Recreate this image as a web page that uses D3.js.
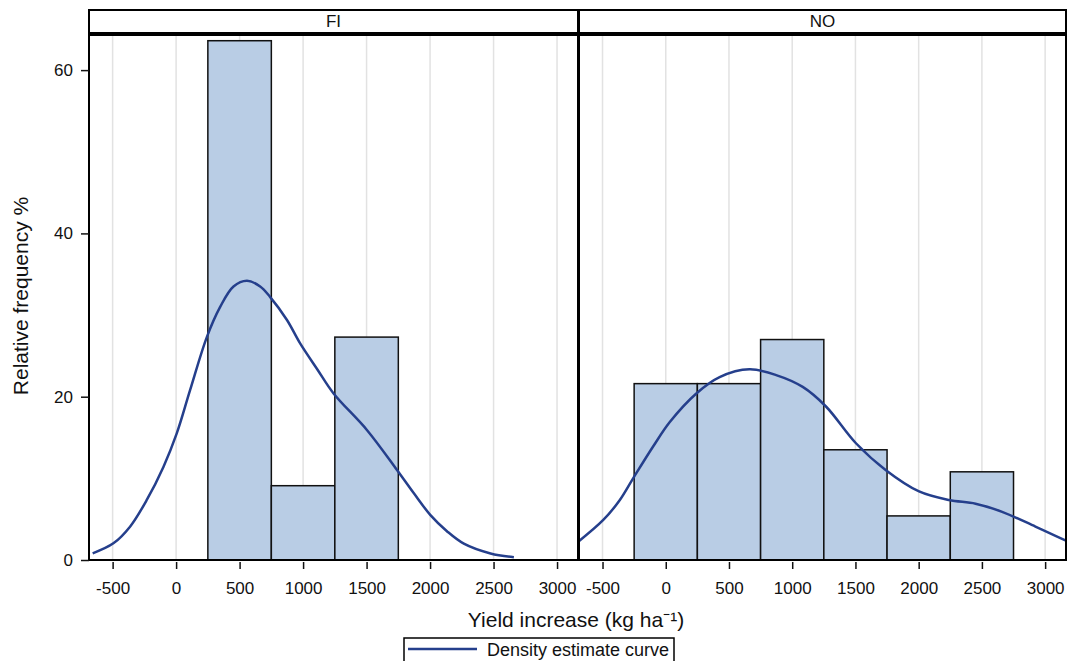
<!DOCTYPE html>
<html>
<head>
<meta charset="utf-8">
<script src="https://cdn.jsdelivr.net/npm/d3@7"></script>
<style>
  body { margin: 0; background: #fff; }
  text { font-family: "Liberation Sans", Arial, sans-serif; }
</style>
</head>
<body>
<div id="chart"></div>
<script>
// data
var panels = ["FI", "NO"];
var binEdges = {
  FI: [250, 750, 1250, 1750],
  NO: [-250, 250, 750, 1250, 1750, 2250, 2750]
};
var binFreq = {
  FI: [63.6, 9.1, 27.3],
  NO: [21.6, 21.6, 27.0, 13.5, 5.4, 10.8]
};
var curveX = {
  FI: [-657, -494, -363, -231, -100, 5, 110, 242, 347, 452, 558, 662, 741, 873, 978, 1110, 1240, 1504, 1741, 1871, 2003, 2135, 2266, 2476, 2660],
  NO: [-692, -494, -363, -258, -100, 32, 242, 426, 662, 873, 1083, 1267, 1504, 1741, 2003, 2240, 2450, 2660, 2923, 3160]
};
var curveY = {
  FI: [0.82, 2.04, 4.08, 7.35, 11.4, 15.5, 20.8, 27.3, 31.0, 33.5, 34.2, 33.5, 32.2, 29.4, 26.5, 23.4, 20.4, 15.9, 11.0, 8.2, 5.5, 3.5, 2.0, 0.8, 0.33],
  NO: [2.24, 4.9, 7.35, 10.0, 13.9, 16.9, 20.4, 22.4, 23.35, 22.65, 21.2, 18.8, 14.3, 11.0, 8.4, 7.35, 6.9, 5.9, 4.1, 2.4]
};
var xTicks = [-500, 0, 500, 1000, 1500, 2000, 2500, 3000];
var yTicks = [0, 20, 40, 60];

var width = 1068, height = 661;
var plotTop = 35, plotBottom = 560;
var panelLeft = {FI: 89, NO: 579}, panelRight = {FI: 578, NO: 1066};

var svg = d3.select("#chart")
            .append("svg")
            .attr("width", width)
            .attr("height", height);

var y = d3.scaleLinear()
          .domain([0, 64.3])
          .range([plotBottom, plotTop]);

panels.forEach(function(p) {
  var x = d3.scaleLinear()
            .domain([-686, 3165])
            .range([panelLeft[p], panelRight[p]]);
  var g = svg.append("g");

  g.append("clipPath")
    .attr("id", "clip" + p)
    .append("rect")
    .attr("x", panelLeft[p])
    .attr("y", plotTop)
    .attr("width", panelRight[p] - panelLeft[p])
    .attr("height", plotBottom - plotTop);

  // vertical grid
  g.selectAll(".grid")
    .data(xTicks)
    .join("line")
    .attr("x1", d => x(d))
    .attr("x2", d => x(d))
    .attr("y1", plotTop)
    .attr("y2", plotBottom)
    .attr("stroke", "#e2e2e2")
    .attr("stroke-width", 1.5);

  // histogram bars
  var bins = binFreq[p].map((v, i) => ({x0: binEdges[p][i], x1: binEdges[p][i + 1], v: v}));
  g.selectAll("rect.bar")
    .data(bins)
    .join("rect")
    .attr("class", "bar")
    .attr("x", d => x(d.x0))
    .attr("width", d => x(d.x1) - x(d.x0))
    .attr("y", d => y(d.v))
    .attr("height", d => y(0) - y(d.v))
    .attr("fill", "#b9cde5")
    .attr("stroke", "#111")
    .attr("stroke-width", 1.5);

  // density curve
  var pts = curveX[p].map((v, i) => [v, curveY[p][i]]);
  g.append("path")
    .datum(pts)
    .attr("clip-path", "url(#clip" + p + ")")
    .attr("fill", "none")
    .attr("stroke", "#253f8c")
    .attr("stroke-width", 2.5)
    .attr("d", d3.line().x(d => x(d[0])).y(d => y(d[1])).curve(d3.curveCatmullRom));

  // x axis
  var ax = g.append("g")
    .attr("transform", `translate(0, ${plotBottom})`)
    .call(d3.axisBottom(x).tickValues(xTicks).tickFormat(d => String(d)).tickSize(9).tickSizeOuter(0).tickPadding(13));
  ax.select(".domain").remove();
  ax.selectAll(".tick line").attr("stroke", "#111").attr("stroke-width", 1.5).attr("y1", 2);
  ax.selectAll(".tick text").attr("font-size", 17).attr("fill", "#111");

  // panel frame + header strip
  g.append("rect")
    .attr("x", panelLeft[p])
    .attr("y", plotTop)
    .attr("width", panelRight[p] - panelLeft[p])
    .attr("height", plotBottom - plotTop)
    .attr("fill", "none")
    .attr("stroke", "#000")
    .attr("stroke-width", 2);
  g.append("rect")
    .attr("x", panelLeft[p])
    .attr("y", 10)
    .attr("width", panelRight[p] - panelLeft[p])
    .attr("height", 23)
    .attr("fill", "#fff")
    .attr("stroke", "#000")
    .attr("stroke-width", 2);
  g.append("text")
    .attr("x", (panelLeft[p] + panelRight[p]) / 2)
    .attr("y", 27)
    .attr("text-anchor", "middle")
    .attr("font-size", 17)
    .attr("fill", "#111")
    .text(p);
});

// y axis
var ay = svg.append("g")
  .attr("transform", `translate(${panelLeft.FI}, 0)`)
  .call(d3.axisLeft(y).tickValues(yTicks).tickSize(8).tickPadding(8));
ay.select(".domain").remove();
ay.selectAll(".tick line").attr("stroke", "#111").attr("stroke-width", 1.5);
ay.selectAll(".tick text").attr("font-size", 17).attr("fill", "#111");

// axis titles
svg.append("text")
  .attr("transform", "translate(28, 296) rotate(-90)")
  .attr("text-anchor", "middle")
  .attr("font-size", 21)
  .attr("fill", "#111")
  .text("Relative frequency %");

svg.append("text")
  .attr("x", 576)
  .attr("y", 627)
  .attr("text-anchor", "middle")
  .attr("font-size", 21)
  .attr("fill", "#111")
  .text("Yield increase (kg ha\u207B\u00B9)");

// legend
var legend = svg.append("g");
legend.append("rect")
  .attr("x", 404)
  .attr("y", 638)
  .attr("width", 270)
  .attr("height", 30)
  .attr("fill", "#fff")
  .attr("stroke", "#000")
  .attr("stroke-width", 1.5);
legend.append("line")
  .attr("x1", 408).attr("x2", 477)
  .attr("y1", 649).attr("y2", 649)
  .attr("stroke", "#253f8c")
  .attr("stroke-width", 2.5);
legend.append("text")
  .attr("x", 487)
  .attr("y", 656)
  .attr("font-size", 18)
  .attr("fill", "#111")
  .text("Density estimate curve");
</script>
</body>
</html>
